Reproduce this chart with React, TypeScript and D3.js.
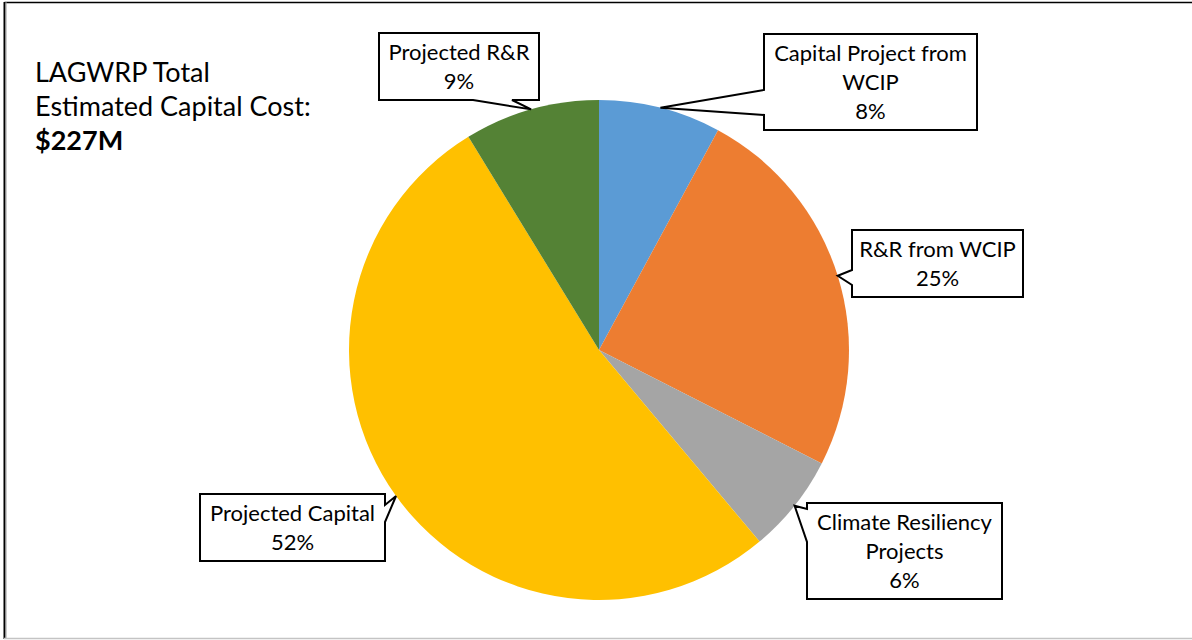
import React from "react";
import * as d3 from "d3";

const categories = [
  "Capital Project from WCIP",
  "R&R from WCIP",
  "Climate Resiliency Projects",
  "Projected Capital",
  "Projected R&R",
];
const shares = [7.9, 24.6, 6.4, 52.35, 8.75];
const percentLabels = ["8%", "25%", "6%", "52%", "9%"];
const labelLines = [
  ["Capital Project from", "WCIP"],
  ["R&R from WCIP"],
  ["Climate Resiliency", "Projects"],
  ["Projected Capital"],
  ["Projected R&R"],
];
const titleLines = ["LAGWRP Total", "Estimated Capital Cost:"];
const totalLabel = "$227M";

const colors = ["#5B9BD5", "#ED7D31", "#A5A5A5", "#FFC000", "#548235"];

// callout box layout (x, y, w, h, side of pointer, base start, base end)
const boxes = [
  { x: 764, y: 34, w: 213, h: 96, side: "left", a: 90, b: 115 },
  { x: 852, y: 230, w: 171, h: 67, side: "left", a: 270, b: 285 },
  { x: 807, y: 503, w: 195, h: 96, side: "left", a: 509, b: 542 },
  { x: 200, y: 494, w: 185, h: 67, side: "right", a: 505, b: 522 },
  { x: 379, y: 33, w: 160, h: 67, side: "bottom", a: 473, b: 512 },
];

const FONT = "Lato, 'Open Sans', sans-serif";

function calloutPath(bx: any, tip: [number, number]) {
  const { x, y, w, h, side, a, b } = bx;
  const r = x + w;
  const btm = y + h;
  const p = d3.path();
  p.moveTo(x, y);
  p.lineTo(r, y);
  if (side === "right") {
    p.lineTo(r, a);
    p.lineTo(tip[0], tip[1]);
    p.lineTo(r, b);
  }
  p.lineTo(r, btm);
  if (side === "bottom") {
    p.lineTo(b, btm);
    p.lineTo(tip[0], tip[1]);
    p.lineTo(a, btm);
  }
  p.lineTo(x, btm);
  if (side === "left") {
    p.lineTo(x, b);
    p.lineTo(tip[0], tip[1]);
    p.lineTo(x, a);
  }
  p.closePath();
  return p.toString();
}

export default function App() {
  const W = 1192;
  const H = 640;
  const cx = 599;
  const cy = 350;
  const R = 250;

  const pie = d3
    .pie<number>()
    .sort(null)
    .value((d) => d)
    .startAngle(0)
    .endAngle(2 * Math.PI);
  const arcs = pie(shares);
  const arc = d3.arc<d3.PieArcDatum<number>>().innerRadius(0).outerRadius(R);
  const edge = d3.arc<d3.PieArcDatum<number>>().innerRadius(R).outerRadius(R);

  return (
    <svg
      width={W}
      height={H}
      style={{ position: "absolute", left: 0, top: 0, background: "#fff" }}
      fontFamily={FONT}
    >
      <rect x={0} y={0} width={W} height={H} fill="#fff" />
      <line x1={4.5} y1={2.5} x2={W} y2={2.5} stroke="#000" strokeWidth={1.5} />
      <line x1={4.5} y1={2} x2={4.5} y2={639} stroke="#000" strokeWidth={2} />
      <line x1={6} y1={2} x2={6} y2={639} stroke="#999" strokeWidth={1} />
      <line x1={4} y1={638.5} x2={W} y2={638.5} stroke="#c4c4c4" strokeWidth={1.5} />

      <g transform={`translate(${cx},${cy})`}>
        {arcs.map((d, i) => (
          <path key={categories[i]} d={arc(d) || ""} fill={colors[i]} />
        ))}
      </g>

      {arcs.map((d, i) => {
        const c = edge.centroid(d);
        const tip: [number, number] = [cx + c[0], cy + c[1]];
        const bx = boxes[i];
        const lines = [...labelLines[i], percentLabels[i]];
        const n = lines.length;
        const mid = bx.y + bx.h / 2;
        return (
          <g key={"c" + i}>
            <path
              d={calloutPath(bx, tip)}
              fill="#fff"
              stroke="#000"
              strokeWidth={2}
              strokeLinejoin="miter"
            />
            {lines.map((t, j) => (
              <text
                key={j}
                x={bx.x + bx.w / 2}
                y={mid + (j - (n - 1) / 2) * 29 + 8}
                textAnchor="middle"
                fontSize={22}
                fill="#000"
              >
                {t}
              </text>
            ))}
          </g>
        );
      })}

      {titleLines.map((t, i) => (
        <text key={t} x={35} y={82 + i * 34} fontSize={27} fill="#000">
          {t}
        </text>
      ))}
      <text x={35} y={150} fontSize={27} fontWeight="bold" fill="#000">
        {totalLabel}
      </text>
    </svg>
  );
}
